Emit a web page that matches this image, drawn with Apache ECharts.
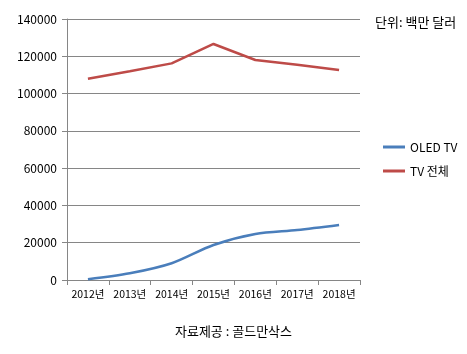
<!DOCTYPE html>
<html><head><meta charset="utf-8">
<script src="https://cdn.jsdelivr.net/npm/echarts@6/dist/echarts.min.js"></script>
<style>html,body{margin:0;padding:0;background:#fff}#c{width:467px;height:354px}</style>
</head><body><div id="c"></div>
<script>
const categories = ['2012년','2013년','2014년','2015년','2016년','2017년','2018년'];
const oledTV = [400, 3600, 9000, 18800, 24700, 26800, 29500];
const tvTotal = [108000, 112000, 116200, 126600, 118000, 115500, 112600];
const seriesNames = ['OLED TV', 'TV 전체'];
const unitText = '단위: 백만 달러';
const sourceText = '자료제공 : 골드만삭스';
const font = '"Noto Sans CJK KR", "Noto Sans", sans-serif';
const chart = echarts.init(document.getElementById('c'));
chart.setOption({
  animation: false,
  textStyle: {fontFamily: font},
  grid: {left: 67, right: 107, top: 19, bottom: 74},
  xAxis: {
    type: 'category', data: categories, boundaryGap: true,
    axisLine: {lineStyle: {color: '#868686'}},
    axisTick: {show: true, length: 5, interval: 0, lineStyle: {color: '#868686'}},
    axisLabel: {color: '#000', fontSize: 10.5, margin: 9, interval: 0, fontFamily: font}
  },
  yAxis: {
    type: 'value', min: 0, max: 140000, interval: 20000,
    axisLine: {show: true, lineStyle: {color: '#868686'}},
    axisTick: {show: true, length: 5, lineStyle: {color: '#868686'}},
    splitLine: {lineStyle: {color: '#868686'}},
    axisLabel: {color: '#000', fontSize: 12, margin: 10, fontFamily: font, formatter: v => String(v)}
  },
  legend: {
    orient: 'vertical', left: 378, top: 136, itemGap: 12,
    itemWidth: 22, itemHeight: 3, itemStyle: {borderWidth: 0},
    textStyle: {color: '#000', fontSize: 12, fontFamily: font},
    data: seriesNames.map(n => ({name: n, icon: 'path://M0,0 H22 V3 H0 Z'}))
  },
  graphic: [
    {type: 'text', left: 375, top: 16, style: {text: unitText, fill: '#000', font: '13px ' + font}},
    {type: 'text', left: 'center', top: 325, style: {text: sourceText, fill: '#000', font: '13px ' + font}}
  ],
  series: [
    {name: seriesNames[0], type: 'line', data: oledTV, smooth: 0.3, symbol: 'none',
     lineStyle: {color: '#4a7ebb', width: 2.5}, itemStyle: {color: '#4a7ebb'}},
    {name: seriesNames[1], type: 'line', data: tvTotal, smooth: false, symbol: 'none',
     lineStyle: {color: '#be4b48', width: 2.5}, itemStyle: {color: '#be4b48'}}
  ]
});
</script></body></html>
